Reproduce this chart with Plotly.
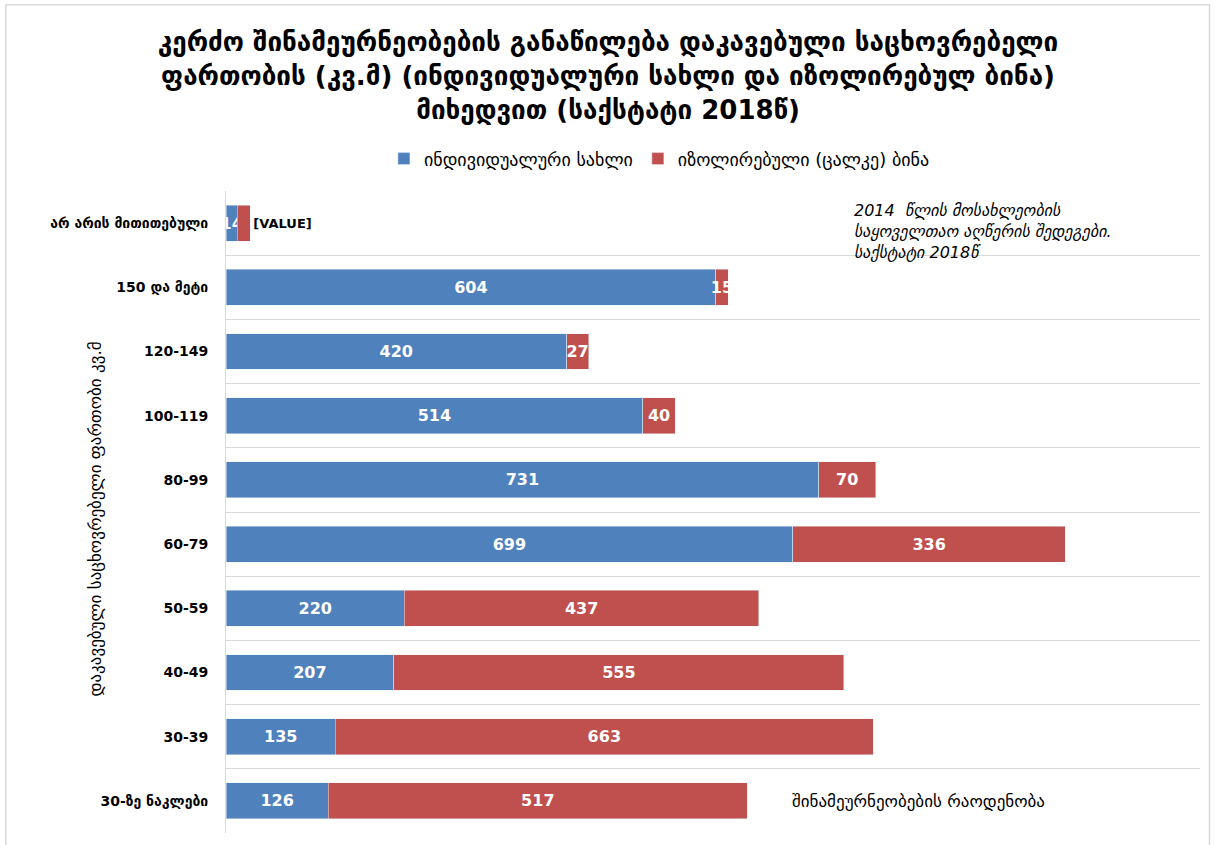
import plotly.graph_objects as go

categories = ["არ არის მითითებული", "150 და მეტი", "120-149", "100-119", "80-99",
              "60-79", "50-59", "40-49", "30-39", "30-ზე ნაკლები"]
house = [14, 604, 420, 514, 731, 699, 220, 207, 135, 126]
apartment = [16, 15, 27, 40, 70, 336, 437, 555, 663, 517]
house_labels = [str(v) for v in house]
apartment_labels = ["[VALUE]"] + [str(v) for v in apartment[1:]]

BLUE = "#4F81BD"
RED = "#C0504D"
FONT = "DejaVu Sans"

fig = go.Figure()
fig.add_trace(go.Bar(
    y=categories, x=house, orientation="h", name="ინდივიდუალური სახლი",
    marker=dict(color=BLUE), text=house_labels, textposition="inside",
    insidetextanchor="middle", constraintext="none", textangle=0,
    textfont=dict(family=FONT, size=16, color="white", weight="bold"),
    hoverinfo="x+y",
))
fig.add_trace(go.Bar(
    y=categories, x=apartment, orientation="h", name="იზოლირებული (ცალკე) ბინა",
    marker=dict(color=RED), text=apartment_labels,
    textposition=["outside"] + ["inside"] * (len(apartment) - 1),
    insidetextanchor="middle", constraintext="none", cliponaxis=False, textangle=0,
    insidetextfont=dict(family=FONT, size=16, color="white", weight="bold"),
    outsidetextfont=dict(family=FONT, size=13, color="black", weight="bold"),
    hoverinfo="x+y",
))

fig.update_layout(
    width=1216, height=845,
    barmode="stack", bargap=0.44,
    paper_bgcolor="white", plot_bgcolor="white",
    margin=dict(l=226, r=16, t=191, b=12),
    font=dict(family=FONT, color="black"),
    title=dict(
        text="კერძო შინამეურნეობების განაწილება დაკავებული საცხოვრებელი<br>"
             "ფართობის (კვ.მ) (ინდივიდუალური სახლი და იზოლირებულ ბინა)<br>"
             "მიხედვით (საქსტატი 2018წ)",
        x=0.5, xanchor="center", y=1 - 51 / 845, yanchor="middle",
        font=dict(family=FONT, size=26, color="black", weight="bold"),
    ),
    legend=dict(orientation="h", x=0.445, xanchor="center", y=1.05, yanchor="middle",
                font=dict(family=FONT, size=18, color="black"),
                itemwidth=30, traceorder="normal"),
    xaxis=dict(range=[0, 1201], visible=False, showgrid=False, zeroline=False),
    yaxis=dict(autorange="reversed", showgrid=True, gridcolor="#d9d9d9", gridwidth=1,
               tickson="boundaries", ticks="", showline=True, linecolor="#d9d9d9",
               ticklabelstandoff=14,
               tickfont=dict(family=FONT, size=14, color="black", weight="bold")),
    annotations=[
        dict(text="2014  წლის მოსახლეობის<br>საყოველთაო აღწერის შედეგები.<br>საქსტატი 2018წ",
             xref="paper", yref="paper", x=0.643, y=0.987, xanchor="left", yanchor="top",
             align="left", showarrow=False,
             font=dict(family=FONT, size=16, color="black", style="italic")),
        dict(text="შინამეურნეობების რაოდენობა",
             xref="paper", yref="paper", x=0.579, y=0.05, xanchor="left", yanchor="middle",
             showarrow=False, font=dict(family=FONT, size=17, color="black")),
        dict(text="დაკავებული საცხოვრებელი ფართობი კვ.მ",
             xref="paper", yref="paper", x=-0.1345, y=0.49, xanchor="center", yanchor="middle",
             textangle=-90, showarrow=False, font=dict(family=FONT, size=17, color="black")),
    ],
    shapes=[dict(type="rect", xref="paper", yref="paper",
                 x0=-0.226, x1=1.0098, y0=-0.05, y1=1.29,
                 line=dict(color="#d9d9d9", width=1.5), layer="below")],
)

fig.write_html("out.html", config={"displayModeBar": False},
               post_script="document.body.style.margin='0';")
